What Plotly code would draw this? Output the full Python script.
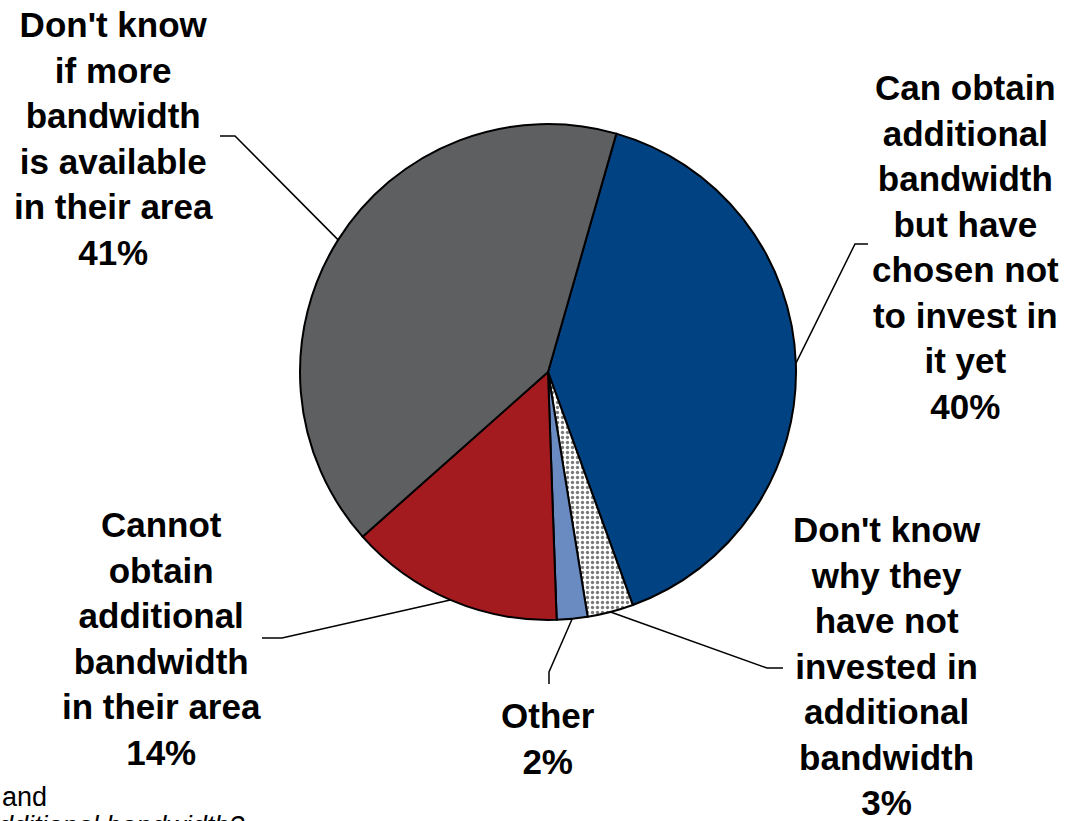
import math
import plotly.graph_objects as go

W, H = 1086, 821

# ---- data (clockwise from the blue slice) ----
labels = [
    "Can obtain<br>additional<br>bandwidth<br>but have<br>chosen not<br>to invest in<br>it yet",
    "Don't know<br>why they<br>have not<br>invested in<br>additional<br>bandwidth",
    "Other",
    "Cannot<br>obtain<br>additional<br>bandwidth<br>in their area",
    "Don't know<br>if more<br>bandwidth<br>is available<br>in their area",
]
values = [40, 3, 2, 14, 41]
colors = ["#004282", "#FFFFFF", "#6A8AC2", "#A31A1F", "#5E5F61"]
patterns = ["", ".", "", "", ""]

# ---- layout settings (pixels) ----
CX, CY, R = 548, 372, 248
ROTATION = 16
label_pos = [(965, 247), (887, 666), (548, 738), (161, 638), (113, 138)]
leader_bends = [
    [(855, 244), (868, 244)],
    [(767, 668), (783, 668)],
    [(549, 672), (549, 684)],
    [(282, 638), (262, 638)],
    [(235, 136), (220, 136)],
]

fig = go.Figure()
fig.add_trace(go.Pie(
    values=values,
    labels=[l.replace("<br>", " ") for l in labels],
    sort=False,
    direction="clockwise",
    rotation=ROTATION,
    textinfo="none",
    hoverinfo="label+percent",
    marker=dict(
        colors=colors,
        line=dict(color="black", width=2),
        pattern=dict(shape=patterns, fgcolor="#7a7a7a", bgcolor="white",
                     size=5, solidity=0.35),
    ),
    domain=dict(x=[(CX - R) / W, (CX + R) / W],
                y=[1 - (CY + R) / H, 1 - (CY - R) / H]),
    showlegend=False,
))

total = sum(values)
cum = 0
shapes = []
annotations = []
for i, v in enumerate(values):
    mid = ROTATION + (cum + v / 2) / total * 360
    cum += v
    a = math.radians(mid)
    ex, ey = CX + R * math.sin(a), CY - R * math.cos(a)
    pts = [(ex, ey)] + leader_bends[i]
    path = "M {} {}".format(*pts[0]) + "".join(" L {} {}".format(x, y) for x, y in pts[1:])
    shapes.append(dict(type="path", path=path, xref="x", yref="y",
                       line=dict(color="black", width=1.5)))
    pct = round(v / total * 100)
    lx, ly = label_pos[i]
    annotations.append(dict(
        x=lx, y=ly, xref="x", yref="y", showarrow=False,
        text=f"<b>{labels[i]}<br>{pct}%</b>", align="center",
        xanchor="center", yanchor="middle",
        font=dict(family="Liberation Sans, Arial", size=35, color="black"),
    ))

annotations.append(dict(x=0, y=797, xref="x", yref="y", showarrow=False,
                        text="and", xanchor="left", yanchor="middle",
                        font=dict(family="Liberation Sans, Arial", size=27, color="black")))
annotations.append(dict(x=246, y=809, xref="x", yref="y", showarrow=False,
                        text="<i>additional bandwidth?</i>", xanchor="right", yanchor="top",
                        font=dict(family="Liberation Sans, Arial", size=27, color="black")))

fig.update_layout(
    width=W, height=H,
    margin=dict(l=0, r=0, t=0, b=0),
    paper_bgcolor="white", plot_bgcolor="white",
    xaxis=dict(range=[0, W], visible=False, fixedrange=True),
    yaxis=dict(range=[H, 0], visible=False, fixedrange=True),
    shapes=shapes,
    annotations=annotations,
)

fig.write_html("out.html", config={"displayModeBar": False},
               post_script="document.body.style.margin='0';document.body.style.overflow='hidden';")
